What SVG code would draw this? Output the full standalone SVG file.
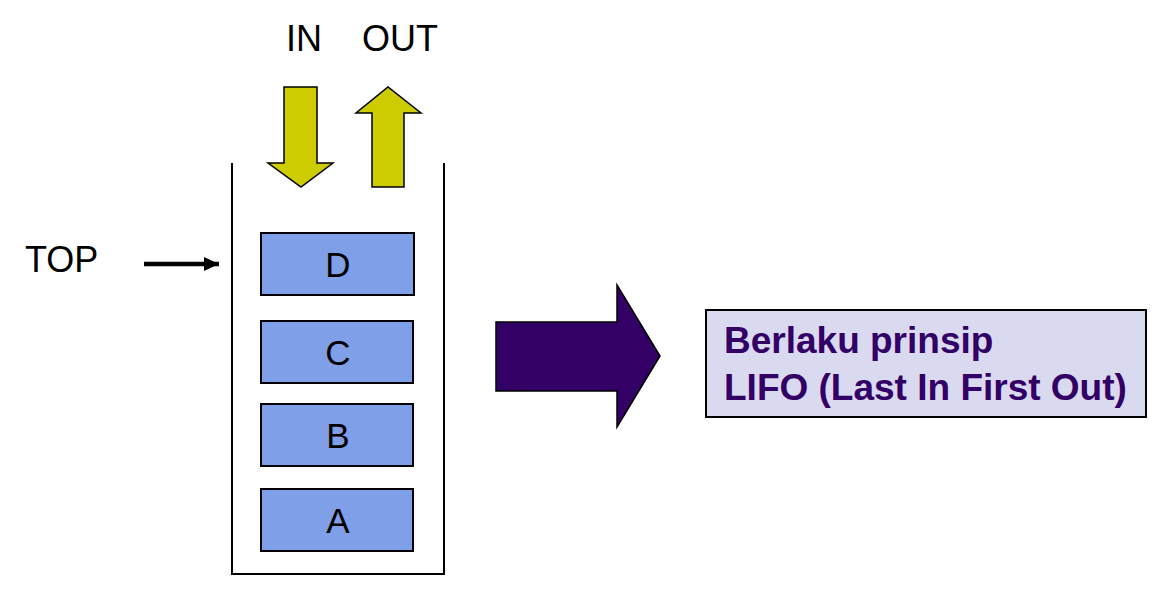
<svg xmlns="http://www.w3.org/2000/svg" width="1154" height="599" viewBox="0 0 1154 599">
<defs>
<style>
.lbl{font-family:"Liberation Sans",Arial,sans-serif;font-size:36px;fill:#000}
.item rect{fill:#7f9fe8;stroke:#000;stroke-width:2}
.item text{font-family:"Liberation Sans",Arial,sans-serif;font-size:35px;fill:#000;text-anchor:middle}
.yarrow{fill:#cccc00;stroke:#000;stroke-width:1.5}
.note text{font-family:"Liberation Sans",Arial,sans-serif;font-size:37px;font-weight:bold;fill:#330066}
</style>
<marker id="ah" markerWidth="15" markerHeight="14" refX="15" refY="7" orient="auto" markerUnits="userSpaceOnUse" viewBox="0 0 15 14">
<path d="M0,0 L15,7 L0,14 Z" fill="#000"/>
</marker>
</defs>
<rect width="1154" height="599" fill="#fff"/>
<g id="container">
<path d="M232,163 V574 H444 V163" fill="none" stroke="#000" stroke-width="2"/>
</g>
<g id="label-in"><text class="lbl" x="286" y="51">IN</text></g>
<g id="label-out"><text class="lbl" x="362" y="51">OUT</text></g>
<g id="label-top"><text class="lbl" x="25" y="272">TOP</text></g>
<g id="arrow-in"><path class="yarrow" d="M284,87 H317 V163 H333 L301,187 L268,163 H284 Z"/></g>
<g id="arrow-out"><path class="yarrow" d="M372,187 V113 H356 L388,87 L421,113 H404 V187 Z"/></g>
<g id="node-d" class="item"><rect x="261" y="233" width="153" height="62"/><text x="338" y="277">D</text></g>
<g id="node-c" class="item"><rect x="261" y="321" width="152" height="62"/><text x="338" y="365">C</text></g>
<g id="node-b" class="item"><rect x="261" y="404" width="152" height="62"/><text x="338" y="448">B</text></g>
<g id="node-a" class="item"><rect x="261" y="489" width="152" height="62"/><text x="338" y="533">A</text></g>
<g id="connectors">
<line x1="144" y1="264" x2="219" y2="264" stroke="#000" stroke-width="4.5" marker-end="url(#ah)"/>
<path d="M496,322 H617 V285 L660,356 L617,427 V391 H496 Z" fill="#330066" stroke="#000" stroke-width="1.5"/>
</g>
<g id="note" class="note">
<rect x="706" y="310" width="440" height="107" fill="#d9d9ef" stroke="#000" stroke-width="2"/>
<text x="724" y="353">Berlaku prinsip</text>
<text x="724" y="400">LIFO (Last In First Out)</text>
</g>
</svg>
